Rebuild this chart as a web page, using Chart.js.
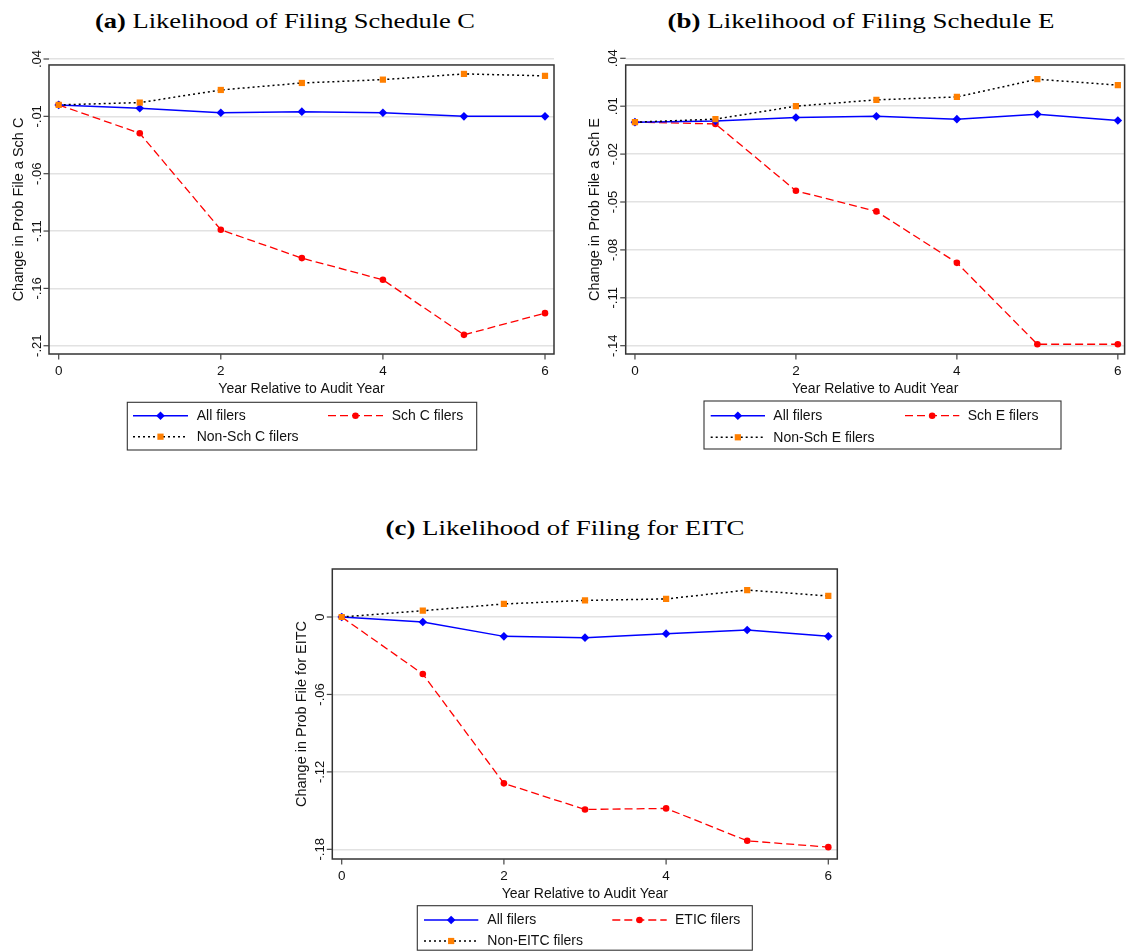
<!DOCTYPE html>
<html><head><meta charset="utf-8">
<script src="https://cdn.jsdelivr.net/npm/chart.js@4/dist/chart.umd.min.js"></script>
<style>
html,body{margin:0;padding:0;background:#fff;}
body{width:1129px;height:951px;position:relative;overflow:hidden;}
.wrap{position:absolute;}
.wrap canvas{display:block;}
.title{position:absolute;white-space:nowrap;font-family:'Liberation Serif','DejaVu Serif',serif;font-size:20px;line-height:1;color:#000;transform:translate(-50%,-50%);}
.title b{font-weight:bold;}
</style></head><body>
<div class="title" id="ta" data-w="380" style="left:285px;top:21px"><b>(a)</b> Likelihood of Filing Schedule C</div>
<div class="title" id="tb" data-w="387" style="left:861px;top:21px"><b>(b)</b> Likelihood of Filing Schedule E</div>
<div class="title" id="tc" data-w="359" style="left:565px;top:528px"><b>(c)</b> Likelihood of Filing for EITC</div>
<div class="wrap" style="left:0px;top:0px"><canvas id="ca" width="570" height="460"></canvas></div>
<div class="wrap" style="left:575px;top:0px"><canvas id="cb" width="554" height="460"></canvas></div>
<div class="wrap" style="left:280px;top:500px"><canvas id="cc" width="570" height="451"></canvas></div>
<script>
// ---- data ----
const years = [0, 1, 2, 3, 4, 5, 6];
const xTickValues = [0, 2, 4, 6];

const schC_all     = [0, -0.0030, -0.0068, -0.0059, -0.0068, -0.0100, -0.0100];
const schC_filers  = [0, -0.0248, -0.1089, -0.1336, -0.1525, -0.2005, -0.1816];
const schC_non     = [0,  0.0020,  0.0130,  0.0191,  0.0220,  0.0270,  0.0253];
const schC_yTicks  = [0.04, -0.01, -0.06, -0.11, -0.16, -0.21];

const schE_all     = [0,  0.0008,  0.0029,  0.0037,  0.0019,  0.0050,  0.0010];
const schE_filers  = [0, -0.0011, -0.0430, -0.0559, -0.0881, -0.1391, -0.1391];
const schE_non     = [0,  0.0019,  0.0100,  0.0140,  0.0158,  0.0269,  0.0232];
const schE_yTicks  = [0.04, 0.01, -0.02, -0.05, -0.08, -0.11, -0.14];

const eitc_all     = [0, -0.0039, -0.0150, -0.0160, -0.0129, -0.0101, -0.0150];
const eitc_filers  = [0, -0.0442, -0.1289, -0.1491, -0.1483, -0.1734, -0.1783];
const eitc_non     = [0,  0.0049,  0.0101,  0.0129,  0.0140,  0.0209,  0.0163];
const eitc_yTicks  = [0, -0.06, -0.12, -0.18];

// ---- helpers ----
const SANS = "'Liberation Sans', Arial, Helvetica, sans-serif";
function fmt(v){
  if (Math.abs(v) < 1e-12) return '0';
  const s = Math.abs(v).toString().replace(/^0/, '');
  return (v < 0 ? '-' : '') + s;
}
function pts(arr){ return years.map((x, i) => ({x: x, y: arr[i]})); }
function drawMarker(ctx, style, r, x, y){
  ctx.beginPath();
  if (style === 'rectRot'){
    ctx.moveTo(x, y - r); ctx.lineTo(x + r, y); ctx.lineTo(x, y + r); ctx.lineTo(x - r, y); ctx.closePath();
  } else if (style === 'rect'){
    const h = r * Math.SQRT1_2; ctx.rect(x - h, y - h, 2 * h, 2 * h);
  } else {
    ctx.arc(x, y, r, 0, Math.PI * 2);
  }
  ctx.fill();
}
function datasets(all, filers, non, fLabel, nLabel){
  return [
    {label:'All filers', data:pts(all), borderColor:'#0000ff', backgroundColor:'#0000ff', borderWidth:1.5,
     pointStyle:'rectRot', pointRadius:4.3, pointBackgroundColor:'#0000ff', pointBorderWidth:0, order:1},
    {label:fLabel, data:pts(filers), borderColor:'#ff0000', backgroundColor:'#ff0000', borderWidth:1.3, borderDash:[8,4],
     pointStyle:'circle', pointRadius:3.3, pointBackgroundColor:'#ff0000', pointBorderWidth:0, order:2},
    {label:nLabel, data:pts(non), borderColor:'#000000', backgroundColor:'#ff7f00', borderWidth:1.5, borderDash:[2,3],
     pointStyle:'rect', pointRadius:4.4, pointBackgroundColor:'#ff7f00', pointBorderWidth:0, order:0}
  ];
}

const stataAxes = {
  id:'stataAxes',
  afterDraw(chart, args, o){
    const ctx = chart.ctx, a = chart.chartArea, xs = chart.scales.x, ys = chart.scales.y;
    ctx.save();
    const ft = ys.getPixelForValue(o.frameTop);
    ctx.setLineDash([]);
    ctx.strokeStyle = '#333'; ctx.lineWidth = 1.5;
    ctx.strokeRect(a.left, ft, a.right - a.left, a.bottom - ft);
    ctx.fillStyle = '#111'; ctx.strokeStyle = '#444'; ctx.lineWidth = 1.2;
    // y ticks
    ctx.font = '13px ' + SANS;
    o.yTicks.forEach(v => {
      const y = ys.getPixelForValue(v);
      ctx.beginPath(); ctx.moveTo(a.left - 5.5, y); ctx.lineTo(a.left, y); ctx.stroke();
      ctx.save(); ctx.translate(a.left - 8.5, y); ctx.rotate(-Math.PI / 2);
      ctx.textAlign = 'center'; ctx.textBaseline = 'alphabetic'; ctx.fillText(fmt(v), 0, 0);
      ctx.restore();
    });
    // x ticks
    ctx.font = '13.5px ' + SANS;
    ctx.textAlign = 'center'; ctx.textBaseline = 'alphabetic';
    xTickValues.forEach(v => {
      const x = xs.getPixelForValue(v);
      ctx.beginPath(); ctx.moveTo(x, a.bottom); ctx.lineTo(x, a.bottom + 5.5); ctx.stroke();
      ctx.fillText(fmt(v), x, a.bottom + 21);
    });
    // axis titles
    ctx.font = '14px ' + SANS;
    ctx.fillText(o.xTitle, (a.left + a.right) / 2, a.bottom + 38.5);
    ctx.save(); ctx.translate(a.left - 26.5, (ft + a.bottom) / 2); ctx.rotate(-Math.PI / 2);
    ctx.font = '14.5px ' + SANS;
    ctx.fillText(o.yTitle, 0, 0);
    ctx.restore();
    // legend
    const L = o.legend;
    ctx.strokeStyle = '#333'; ctx.lineWidth = 1.1;
    ctx.strokeRect(L.box[0], L.box[1], L.box[2], L.box[3]);
    const slots = [[0,0],[0,1],[1,0]];
    ctx.font = '14px ' + SANS; ctx.textAlign = 'left'; ctx.textBaseline = 'middle';
    chart.data.datasets.forEach((ds, i) => {
      const [r, c] = slots[i];
      const y = L.rows[r], col = L.cols[c];
      ctx.save();
      ctx.strokeStyle = ds.borderColor; ctx.lineWidth = ds.borderWidth;
      ctx.setLineDash(ds.borderDash || []);
      ctx.beginPath(); ctx.moveTo(col[0], y); ctx.lineTo(col[1], y); ctx.stroke();
      ctx.setLineDash([]);
      ctx.fillStyle = ds.pointBackgroundColor;
      drawMarker(ctx, ds.pointStyle, ds.pointRadius, (col[0] + col[1]) / 2, y);
      ctx.restore();
      ctx.fillStyle = '#111';
      ctx.fillText(ds.label, col[2], y + 0.5);
    });
    ctx.restore();
  }
};

function makeChart(id, cfg){
  const cv = document.getElementById(id);
  const W = cv.width, H = cv.height;
  return new Chart(cv, {
    type:'line',
    data:{datasets:cfg.datasets},
    options:{
      responsive:false, animation:false, devicePixelRatio:1,
      layout:{padding:{left:0, top:cfg.area.T, right:W - cfg.area.R, bottom:0}},
      elements:{line:{tension:0}},
      plugins:{legend:{display:false}, tooltip:{enabled:false}, stataAxes:cfg.axes},
      scales:{
        x:{type:'linear', min:cfg.xmin, max:cfg.xmax, grid:{display:false}, border:{display:false},
           ticks:{display:false}, afterFit:s => { s.height = H - cfg.area.B; }},
        y:{type:'linear', min:cfg.ymin, max:cfg.ymax, border:{display:false},
           grid:{color:'#e2e2e2', lineWidth:1.5, drawTicks:false},
           ticks:{display:false},
           afterBuildTicks:s => { s.ticks = cfg.axes.yTicks.map(v => ({value:v})); },
           afterFit:s => { s.width = cfg.area.L; }}
      }
    },
    plugins:[stataAxes]
  });
}

makeChart('ca', {
  datasets:datasets(schC_all, schC_filers, schC_non, 'Sch C filers', 'Non-Sch C filers'),
  area:{L:49, R:554, T:59, B:354},
  xmin:-0.1197, xmax:6.111, ymin:-0.2172, ymax:0.04,
  axes:{frameTop:0.0348, yTicks:schC_yTicks, xTitle:'Year Relative to Audit Year', yTitle:'Change in Prob File a Sch C',
    legend:{box:[127.3, 402.3, 349.4, 47.7], rows:[415.7, 436.7], cols:[[133, 188, 196.7],[328, 383, 391.7]]}}
});
makeChart('cb', {
  datasets:datasets(schE_all, schE_filers, schE_non, 'Sch E filers', 'Non-Sch E filers'),
  area:{L:50.7, R:552.5, T:58.3, B:354},
  xmin:-0.115, xmax:6.084, ymin:-0.1452, ymax:0.04,
  axes:{frameTop:0.0358, yTicks:schE_yTicks, xTitle:'Year Relative to Audit Year', yTitle:'Change in Prob File a Sch E',
    legend:{box:[129, 401, 357, 48], rows:[415.7, 437.3], cols:[[135.7, 190, 198.3],[330, 384.3, 392.7]]}}
});
makeChart('cc', {
  datasets:datasets(eitc_all, eitc_filers, eitc_non, 'ETIC filers', 'Non-EITC filers'),
  area:{L:52.3, R:557.3, T:69, B:359},
  xmin:-0.116, xmax:6.111, ymin:-0.1875, ymax:0.0372,
  axes:{frameTop:0.0372, yTicks:eitc_yTicks, xTitle:'Year Relative to Audit Year', yTitle:'Change in Prob File for EITC',
    legend:{box:[137.3, 405.7, 335, 44.5], rows:[420, 441], cols:[[144, 198.3, 207.3],[332.3, 386.7, 395]]}}
});

// stretch titles horizontally to the measured widths (Computer Modern is wider than Times)
document.querySelectorAll('.title').forEach(el => {
  const target = parseFloat(el.dataset.w);
  const w = el.getBoundingClientRect().width;
  if (w > 0) el.style.transform = 'translate(-50%,-50%) scaleX(' + (target / w).toFixed(4) + ')';
});
</script>
</body></html>
